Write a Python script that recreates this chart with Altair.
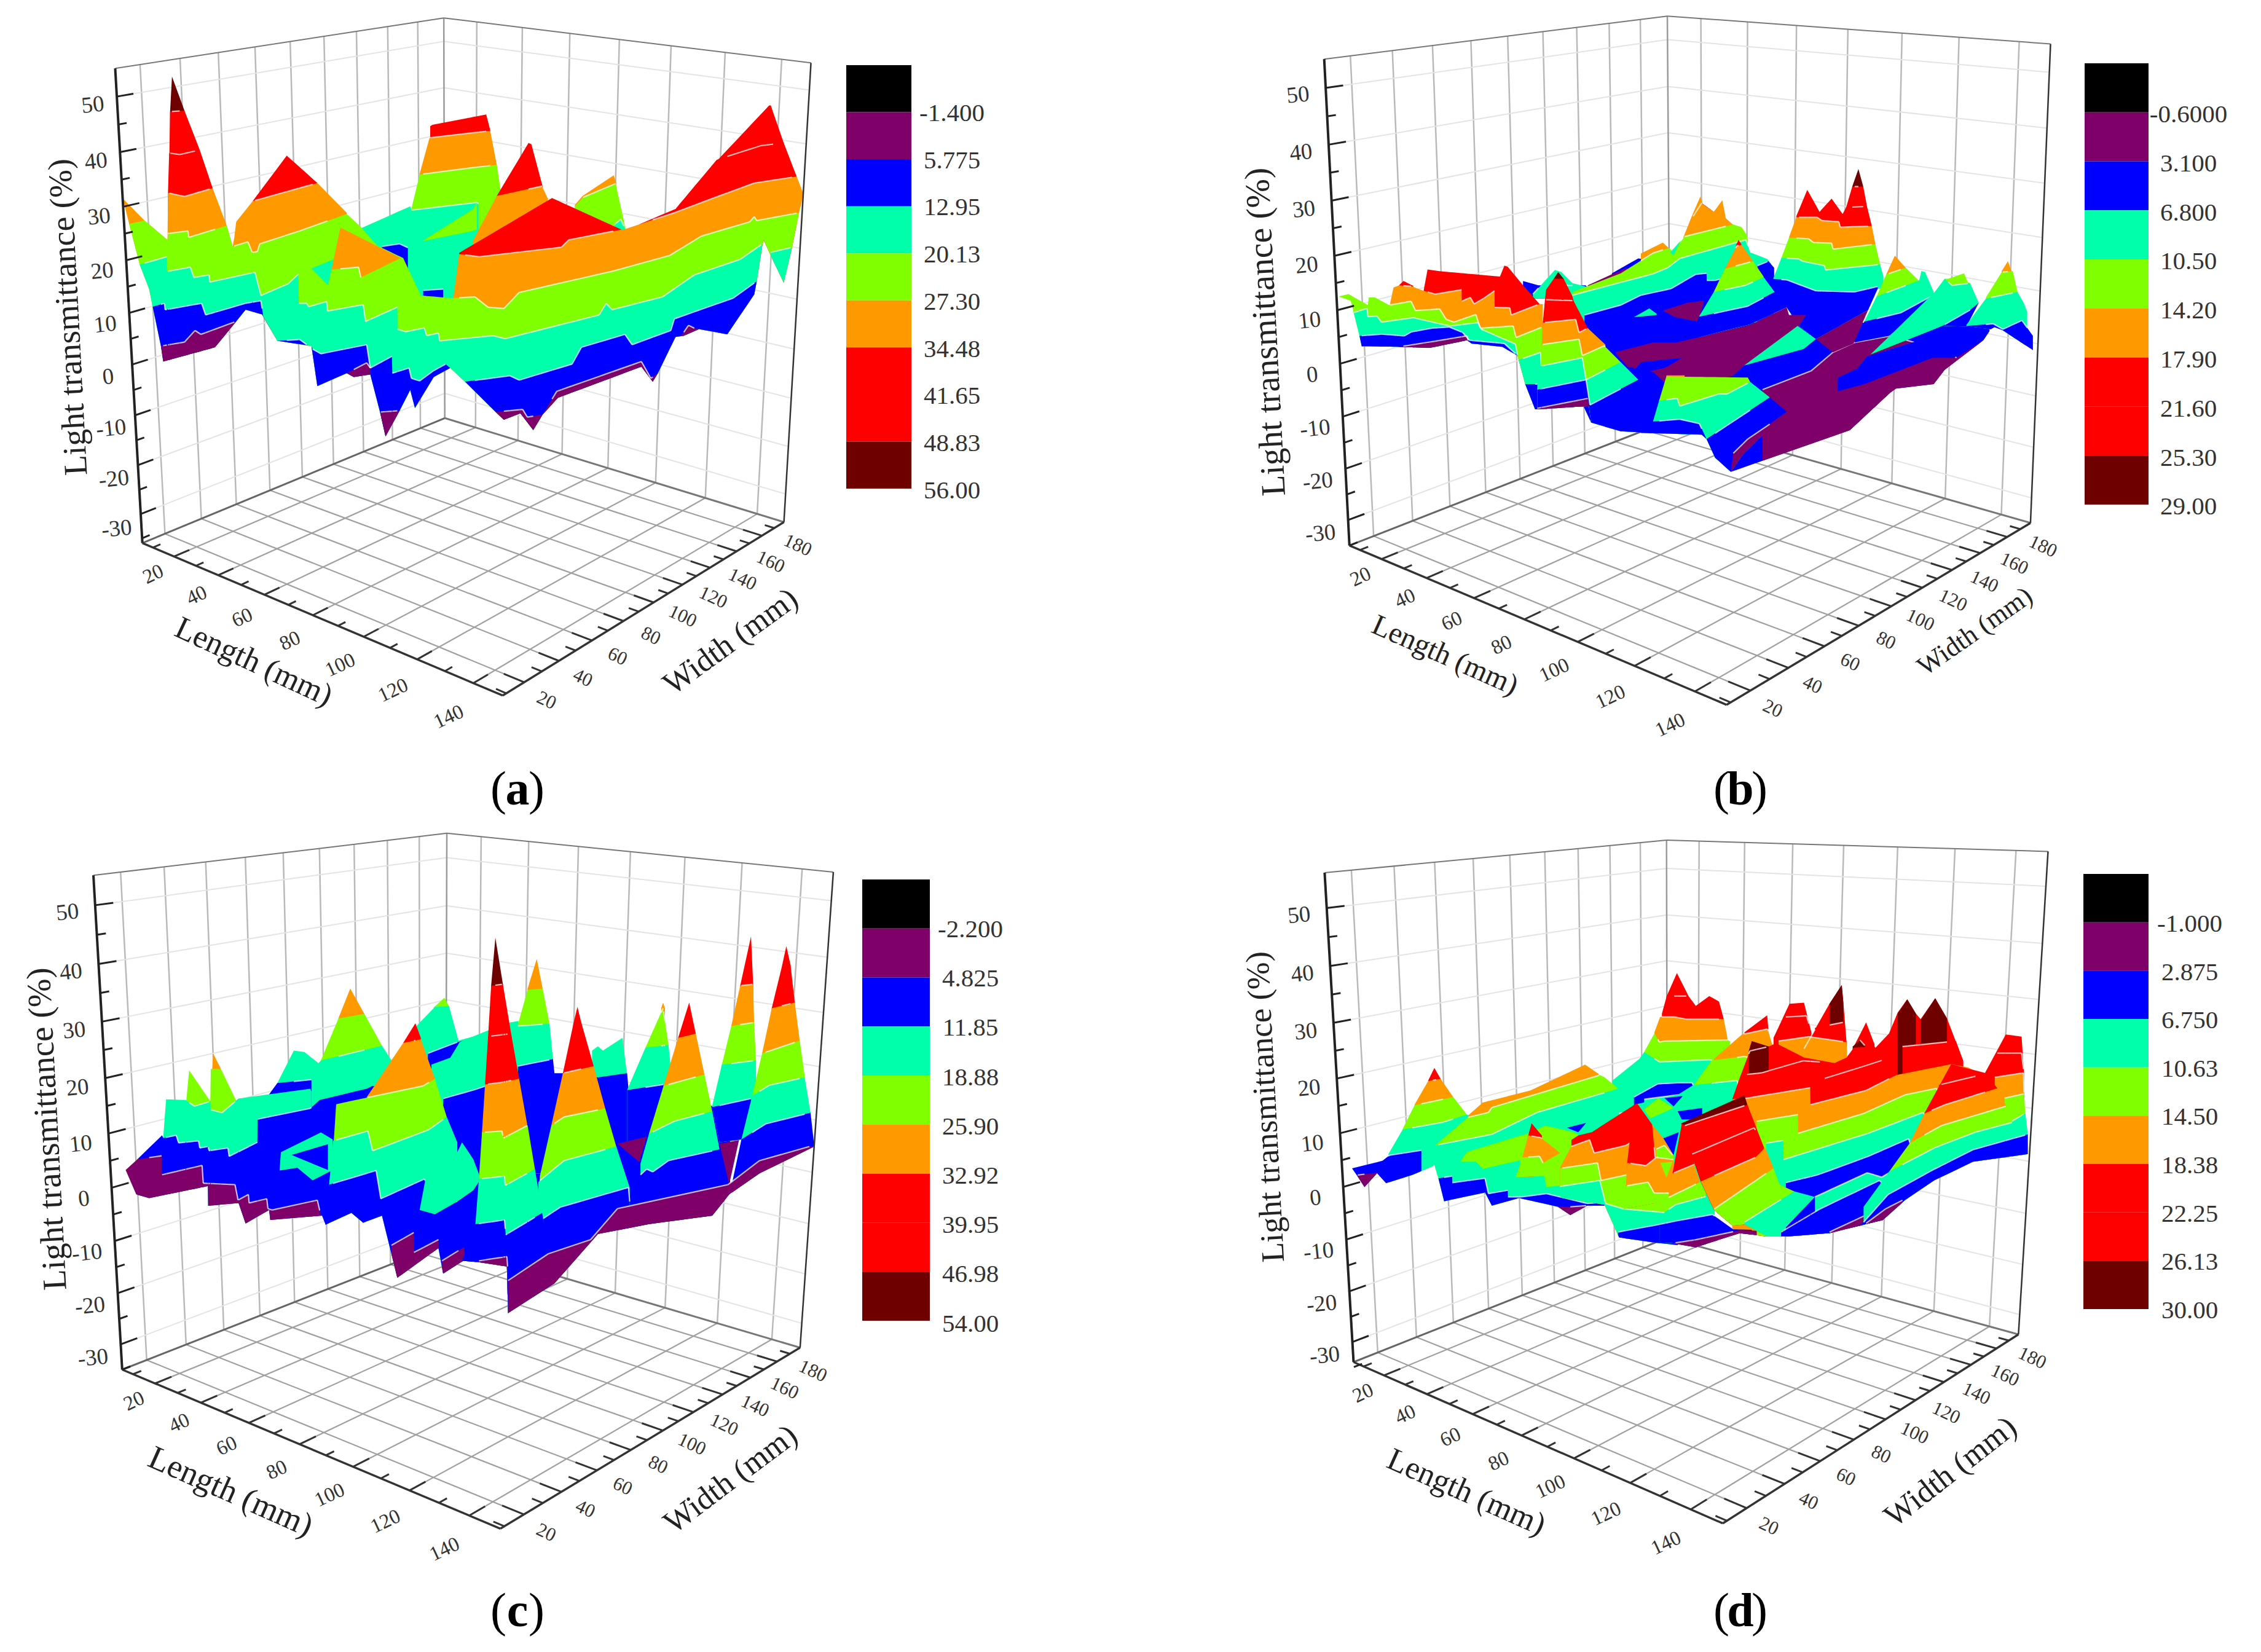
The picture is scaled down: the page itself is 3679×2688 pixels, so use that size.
import numpy as np
import pandas as pd
import altair as alt

COLORS = {"P": "#7f0068", "B": "#0000ff", "T": "#00ffaa", "G": "#80ff00",
          "O": "#ff9900", "R": "#ff0000", "M": "#6e0000", "K": "#000000"}
LEGEND_KEYS = ["K", "P", "B", "T", "G", "O", "R", "R", "M"]

A_LEVELS = ["-1.400", "5.775", "12.95", "20.13", "27.30", "34.48", "41.65", "48.83", "56.00"]
B_LEVELS = ["-0.6000", "3.100", "6.800", "10.50", "14.20", "17.90", "21.60", "25.30", "29.00"]
C_LEVELS = ["-2.200", "4.825", "11.85", "18.88", "25.90", "32.92", "39.95", "46.98", "54.00"]
D_LEVELS = ["-1.000", "2.875", "6.750", "10.63", "14.50", "18.38", "22.25", "26.13", "30.00"]

Z_TICKS = [-30, -20, -10, 0, 10, 20, 30, 40, 50]
LENGTH_TICKS = [20, 40, 60, 80, 100, 120, 140]
WIDTH_TICKS = [20, 40, 60, 80, 100, 120, 140, 160, 180]

# Each curve: (horizontal station along the projected surface, apparent transmittance %)
# ---------------------------------- panel a ----------------------------------
A_HILL = ([(1090, 10.5), (1690, 10.5)], [
    ("R", [(1385, 44.5), (1395, 44.75), (1623, 46.75), (1640, 43.75)]),
    ("O", [(1340, 35.25), (1382, 42.25), (1640, 43.6), (1668, 37)]),
    ("G", [(1305, 28.5), (1340, 35.15), (1568, 36.5), (1668, 37), (1683, 32.5)]),
    ("T", [(1090, 24.75), (1300, 29), (1306, 28.25), (1583, 29.75), (1590, 29.5)]),
    ("B", [(1180, 21.25), (1255, 21.75), (1290, 21)]),
    ("B", [(1355, 12.75), (1440, 13)]),
])
A_WEDGE = ([(1350, 22.25), (1568, 24.25), (1583, 24.5)], [
    ("G", [(1350, 22.25), (1568, 28.5), (1583, 29.75)]),
])
A_GREENPEAK = ([(2000, 20), (2215, 20)], [
    ("O", [(2000, 29.25), (2033, 31), (2165, 35), (2175, 33.6)]),
    ("G", [(2000, 29), (2035, 30.75), (2173, 33.4), (2208, 26.25), (2215, 24.5)]),
    ("T", [(2170, 25.5), (2195, 26.5), (2215, 24.5)]),
])
A_REDPEAK = ([(1568, 19), (1885, 19)], [
    ("R", [(1668, 31), (1803, 41.25), (1815, 41), (1862, 33)]),
    ("O", [(1568, 22.5), (1668, 31), (1860, 32.9), (1885, 30.5)]),
])
A_FRONT_BASE = [(78, 30.5), (105, 25.6), (150, 17.75), (190, 13), (205, 9.6), (240, 2), (250, -1), (470, 1.75),
                (560, 6.75), (600, 9), (670, 8.1), (735, 3), (880, 2), (905, -5.75), (1030, -3.25), (1060, -4),
                (1130, -3.5), (1170, -10.5), (1195, -15.5), (1255, -10.5), (1300, -6.5), (1320, -10), (1400, -4),
                (1470, -2.25), (1533, -4.9), (1663, -10.75), (1698, -12.25), (1768, -11), (1823, -14.25),
                (1863, -11.25), (1928, -8), (2283, -2), (2331, -4.9), (2353, -3.25), (2428, 3.75), (2463, 4),
                (2528, 5.25), (2648, 4.25), (2763, 12), (2773, 14.5), (2798, 21.75), (2803, 22.5), (2843, 18.5),
                (2888, 14.25), (2923, 21), (2953, 27.75), (2973, 31.5)]
A_FRONT = (A_FRONT_BASE, [
    ("M", [(279, 47.3), (287, 54.1), (340, 47.5)]),
    ("R", [(276, 39.3), (279, 47.3), (340, 47.5), (405, 39.9)]),
    ("R", [(270, 31.6), (275, 39.3), (320, 39), (405, 39.9), (460, 32.5)]),
    ("R", [(630, 30), (775, 38.8), (905, 33.5)]),
    ("O", [(78, 30.5), (170, 26.25), (268, 22.5), (270, 31.6), (340, 30.9), (460, 32.5), (520, 25.25), (545, 21.25),
           (552, 23), (560, 26), (630, 30), (905, 33.5), (1030, 27.75)]),
    ("R", [(1508, 20), (1903, 30.6), (2198, 24.5)]),
    ("R", [(2603, 37.75), (2826, 48.5), (2833, 48.5), (2888, 41.25)]),
    ("R", [(2273, 25.5), (2428, 28.5), (2603, 38), (2793, 40.75), (2888, 41.25), (2943, 34.75)]),
    ("O", [(1483, 11.25), (1508, 19.75), (1593, 19.25), (1943, 21.1), (1973, 22.5), (2198, 24.5), (2213, 24.6),
           (2423, 27.75), (2613, 31), (2763, 33.5), (2943, 34.75), (2971, 31.5)]),
    ("G", [(105, 25.6), (170, 26.25), (268, 22.5), (270, 23.75), (355, 24.25), (358, 23), (520, 25.25), (545, 21.25),
           (610, 22.15), (628, 20.1), (650, 20.25), (660, 21.75), (830, 24.25), (1030, 27.5), (1090, 25), (1160, 21.4),
           (1270, 19), (1345, 11.75), (1480, 11.25), (1575, 11.5), (1631, 9.5), (1698, 9.25), (1763, 12.35),
           (2163, 16.5), (2403, 19.5), (2538, 23.25), (2743, 26), (2763, 27), (2773, 26.25), (2953, 27.75), (2968, 27.5)]),
    ("T", [(150, 17.75), (265, 19.25), (266, 16.4), (365, 17.25), (380, 15.25), (445, 15.75), (448, 14.35), (640, 16.25),
           (665, 11.75), (780, 14), (825, 15.9), (826, 10.25), (860, 10.25), (868, 9.6), (945, 10.6), (948, 8.75),
           (1100, 10), (1110, 6.75), (1245, 9.5), (1246, 5.25), (1280, 4.75), (1360, 5.5), (1370, 4), (1420, 4.5),
           (1425, 3), (1653, 4), (1703, 3.4), (2103, 8), (2133, 10.25), (2158, 9), (2373, 11.5), (2508, 15.75),
           (2703, 18.75), (2798, 21.75)]),
    ("T", [(2833, 20.1), (2918, 21), (2925, 20.9)]),
    ("B", [(205, 9.6), (255, 10.25), (258, 9), (413, 10.25), (430, 8), (600, 10.25), (665, 10.75), (675, 7.75), (735, 3),
           (830, 3.25), (885, 1.4), (920, 0.5), (1115, 2.25), (1130, -2.25), (1222, 0), (1224, -3.25), (1295, -2.25),
           (1305, -4.25), (1340, -4.75), (1400, -2.75), (1450, -1.5), (1480, -3), (1533, -4.9), (1723, -3.75),
           (1763, -4.6), (1988, -1.5), (2028, 1.75), (2213, 4.25), (2243, 2.25), (2408, 5), (2423, 7.25), (2673, 11.25),
           (2773, 14.5)]),
    ("P", [(240, 2), (340, 2.75), (385, 5), (410, 4.25), (560, 6.75)]),
    ("P", [(1030, -3.25), (1115, -1.25), (1130, -2.25)]),
    ("P", [(1175, -10.75), (1255, -10.5)]),
    ("P", [(1663, -10.75), (1778, -10.25), (1798, -11.75), (1863, -11.25), (1923, -6.75), (2283, -1), (2323, -4.25), (2353, -3.25)]),
    ("P", [(2450, 3.8), (2483, 6), (2533, 4.9)]),
])
A_NOTCH = ([(880, 17), (950, 13.75), (975, 18.75)], [
    ("T", [(880, 17), (975, 18.75)]),
])
A_PATCH = ([(965, 16), (1090, 14), (1262, 18.5)], [
    ("O", [(965, 16.75), (1003, 24.9), (1260, 19)]),
    ("G", [(965, 16.75), (1080, 17.25), (1090, 15.25), (1260, 19)]),
])
PANEL_A_SHEETS = [A_HILL, A_WEDGE, A_GREENPEAK, A_REDPEAK, A_FRONT, A_NOTCH, A_PATCH]

# ---------------------------------- panel b ----------------------------------
B_TENT = ([(975, 12.6), (1265, 12.6)], [
    ("B", [(975, 15.8), (1045, 15), (1260, 15), (1265, 14.8)]),
    ("T", [(1020, 13.4), (1120, 17.8), (1150, 17.4), (1200, 15.4), (1260, 14.8)]),
])
B_STRIP = ([(1270, 13.4), (1520, 13.4)], [
    ("B", [(1380, 17.2), (1500, 19.9), (1520, 19.8)]),
    ("P", [(1270, 15), (1390, 17.2), (1450, 18.2)]),
])
B_HILL = ([(1195, 7.8), (2121, 7.8)], [
    ("R", [(1750, 27.6), (1789, 30), (1844, 28.4)]),
    ("O", [(1512, 20.8), (1612, 22.8), (1639, 21.8)]),
    ("O", [(1706, 23.8), (1744, 27.6), (1783, 31.2), (1794, 29.8), (1844, 28.4), (1883, 30.5), (1899, 27.2), (1933, 26)]),
    ("G", [(1200, 13.8), (1420, 17.2), (1568, 20.9), (1639, 21.8), (1656, 21.2), (1695, 23), (1711, 23.9), (1933, 26.1),
           (1971, 25.6), (1994, 24.2), (1999, 23.3)]),
    ("T", [(1200, 13.2), (1568, 17.1), (1634, 18.2), (1689, 19.9), (1990, 23.3), (2010, 21), (2088, 19.8), (2104, 19)]),
    ("B", [(1255, 9.6), (1420, 11.4), (1512, 13.2), (1650, 14.4), (1761, 17), (1811, 17.2), (1812, 15.9), (1850, 15.9), (1877, 16.2)]),
    ("B", [(2043, 18.6), (2093, 19.4), (2119, 18.2)]),
])
B_HILL_BIT = ([(1645, 21), (1661, 20.5), (1695, 23.2)], [("T", [(1645, 21), (1695, 23.2)])])
B_LEFT_BASE = [(135, 13), (190, 12.2), (205, 9.8), (230, 5.8), (240, 3.9), (400, 3.8), (550, 3.6), (720, 5), (740, 4.4),
               (880, 3.8), (950, 2.2), (985, -3), (1030, -7.6), (1060, -7.6)]
B_LEFT = (B_LEFT_BASE, [
    ("R", [(410, 15), (430, 15.8), (475, 14.9)]),
    ("R", [(522, 14), (540, 17.9), (590, 17.6), (870, 16.6), (890, 18.6), (905, 18.4), (975, 15), (1050, 11.6)]),
    ("O", [(370, 11.8), (385, 14.6), (410, 15), (470, 14.8), (522, 14), (575, 13.4), (695, 14.2), (696, 12.1), (735, 12.8),
           (752, 11.6), (798, 12.7), (845, 14), (846, 11), (915, 10.9), (921, 9.6), (1050, 11.6), (1065, 11.6)]),
    ("G", [(135, 13), (180, 13.4), (268, 11.4), (272, 12.8), (300, 12.8), (365, 11.4), (465, 12.1), (485, 10.4), (595, 10.7),
           (625, 8.8), (660, 8.3), (760, 9.7), (780, 7.2), (930, 7.6), (943, 5.5), (1062, 7.4)]),
    ("T", [(200, 10), (265, 10.8), (268, 9.3), (310, 9.4), (330, 8.3), (475, 9.1), (640, 7.6), (770, 8.2), (785, 7), (940, 4.3),
           (955, 1.4), (1055, 2.8), (1058, 0.3)]),
    ("B", [(230, 5.8), (330, 6.1), (435, 5.8), (465, 6.5), (560, 7.2), (640, 7.4), (700, 6.4), (730, 5), (890, 4.4), (950, 2.2),
           (985, -3), (1040, -3)]),
    ("P", [(410, 3.8), (570, 4.8), (720, 5.8), (725, 5)]),
])
B_FRONT_BASE = [(1250, -7), (1285, -10), (1420, -11.6), (1568, -11.9), (1789, -12.2), (1811, -13), (1850, -16.4), (1922, -19),
                (2464, -11.4), (2647, -4.6), (2674, -3.8), (2846, -3), (2896, -0.4), (3073, 5), (3106, 7), (3123, 7.4),
                (3161, 6.8), (3244, 4.6), (3298, 3.2)]
B_FIELD = (B_FRONT_BASE, [
    ("B", [(1250, 8), (1568, 8.2), (2010, 8.2), (2508, 8.2), (3000, 8), (3100, 7.2)]),
])
B_FIELD_BIT = ([(1480, 9.2), (1584, 9.6)], [("T", [(1480, 9), (1550, 10.8), (1584, 9.8)])])
B_TALL = ([(2099, 13.4), (2176, 11), (2232, 7.6), (2309, 5.2), (2547, 10.5), (2591, 14.4), (2617, 14.4)], [
    ("M", [(2475, 33), (2503, 36.2), (2525, 33)]),
    ("R", [(2447, 29.2), (2475, 33), (2525, 33), (2542, 29.4)]),
    ("R", [(2220, 27.6), (2270, 32.4), (2326, 28.4), (2381, 30.8), (2431, 28), (2447, 29.2), (2542, 29.4), (2564, 25.8)]),
    ("O", [(2187, 23.8), (2220, 27.4), (2315, 27.4), (2337, 26.8), (2414, 26.6), (2420, 25.6), (2564, 25.8), (2580, 22.6)]),
    ("G", [(2152, 20), (2187, 23.7), (2276, 23.5), (2298, 22.8), (2381, 22.7), (2387, 21.6), (2580, 22.5), (2602, 18.8)]),
    ("T", [(2115, 16.2), (2152, 20), (2232, 19.8), (2248, 19.4), (2348, 18.6), (2353, 17.8), (2602, 18.8), (2617, 16.6)]),
    ("B", [(2099, 16.2), (2176, 16), (2309, 14), (2486, 13.8), (2591, 14.8)]),
])
B_STRIP1 = ([(1395, 2.8), (1450, 0.2), (1568, -0.8), (1623, -2.8), (1927, -1.6), (1982, 0.4), (2232, 7.6), (2265, 9.6)], [
    ("P", [(1395, 2.8), (1568, 4.6), (1673, 4.6), (2010, 7.8), (2176, 11), (2187, 9.6), (2265, 9.6)]),
])
B_WEDGE_BLUE = ([(1470, -1), (1512, -1), (1623, 0), (1700, 1.8)], [("B", [(1470, -1), (1512, 1), (1700, 1.8)])])
B_DIAMOND = ([(1612, 10.4), (1667, 9.2), (1772, 8.4), (1800, 12.2)], [("P", [(1612, 10.4), (1722, 11.8), (1800, 12.2)])])
B_PEAK2 = ([(1722, 5.2), (1761, 5.4), (2010, 7.9), (2176, 11)], [
    ("R", [(1944, 22.2), (1957, 23.3), (1971, 22.4)]),
    ("O", [(1894, 18), (1949, 22.2), (1971, 22.4), (2023, 19.4)]),
    ("G", [(1844, 13.8), (1894, 18), (2023, 19.4), (2071, 16.6)]),
    ("T", [(1778, 9.4), (1844, 13.8), (1988, 15), (2071, 16.5), (2121, 13.8)]),
    ("B", [(1722, 5.2), (1778, 9.3), (1999, 11.2), (2121, 13.8), (2176, 11)]),
])
B_TEAL_WEDGE = ([(1982, 0.4), (2254, 3.4), (2309, 5.2)], [("T", [(1982, 0.4), (2226, 7.6), (2309, 5.2)])])
B_PURPLE_WEDGE = ([(2309, 5.2), (2387, 2.8), (2481, 4.4), (2547, 10.5)], [("P", [(2309, 5.2), (2547, 10.5)])])
B_PURPLE_BIG = (B_FRONT_BASE, [
    ("P!", [(2066, -4), (2287, -0.6), (2387, 2.8), (2486, 4.6), (2652, 5.8), (2900, 3), (2950, 1.8), (3073, 5)]),
])
B_BAND = ([(2398, -4.4), (2530, -3), (2840, 1.8), (2940, 1.8), (3062, 6.2), (3112, 8)], [
    ("B", [(2409, -1.8), (2497, -0.2), (2541, 2), (2957, 7.2), (3112, 8)]),
])
B_R3 = ([(2486, 4.6), (2641, 5.8), (2838, 11.4)], [
    ("O", [(2630, 17), (2669, 20.4), (2719, 18.2)]),
    ("G", [(2586, 13), (2630, 17), (2719, 18.2), (2780, 15.8)]),
    ("T", [(2530, 8.4), (2586, 13), (2780, 15.9), (2790, 17.6), (2807, 17.4), (2846, 13.8)]),
    ("B", [(2486, 4.6), (2530, 8.4), (2696, 10), (2835, 13), (2838, 11.4)]),
])
B_R4 = ([(2558, 2.4), (2885, 7.6), (2995, 7.5), (3051, 11.8)], [
    ("G", [(2896, 16.2), (2912, 16.2), (2984, 17.2), (3001, 15.6), (3012, 15.4)]),
    ("T", [(2558, 2.4), (2851, 13.8), (2896, 16.2), (2929, 15), (3012, 15.4), (3051, 11.8)]),
    ("B", [(2885, 7.6), (3051, 11.4)]),
])
B_R5 = ([(2995, 7.6), (3106, 7), (3123, 7.4), (3161, 6.8), (3244, 4.6), (3298, 3.2)], [
    ("O", [(3156, 17.6), (3184, 19.4), (3200, 17.6)]),
    ("G", [(3084, 12.8), (3156, 17.4), (3206, 17.6), (3228, 13.8)]),
    ("T", [(2995, 7.8), (3084, 12.6), (3228, 13.8), (3256, 11.8), (3272, 10.2)]),
    ("B", [(3001, 7.6), (3117, 8), (3161, 7), (3248, 8.6), (3298, 5.8)]),
])
B_PEAK1 = ([(1040, -7.6), (1275, -7), (1285, -10), (1420, -11.6), (1568, -11.9)], [
    ("M", [(1115, 16.2), (1135, 17.4), (1160, 16.2)]),
    ("R", [(1075, 12.4), (1080, 14.2), (1115, 16.2), (1160, 16.2), (1200, 13), (1205, 12.2)]),
    ("R", [(1065, 8.2), (1075, 12.4), (1205, 12.2), (1270, 7.2)]),
    ("O", [(1060, 4.2), (1065, 8.2), (1215, 8.8), (1230, 6.4), (1270, 7.2), (1350, 4.2)]),
    ("G", [(1058, 0.2), (1060, 4.2), (1230, 5.2), (1245, 2.2), (1345, 4), (1420, 1)]),
    ("T", [(1040, -4), (1055, 0.3), (1245, 1.8), (1262, -2.2), (1420, 1), (1500, -2.2)]),
    ("B", [(1040, -4), (1262, -2.2), (1280, -6.8), (1500, -2.2), (1568, -5)]),
    ("P", [(1040, -7.4), (1270, -5.6), (1275, -7.2)]),
])
B_PATCH = ([(1512, -11.9), (1789, -12.2), (1811, -13), (1850, -16.4), (1922, -19), (1977, -15.8), (2176, -8)], [
    ("O", [(1628, -1.4), (1711, -1.4)]),
    ("G", [(1595, -6), (1628, -1.6), (1999, -1.8), (2010, -2.6)]),
    ("T", [(1567, -9.8), (1595, -6), (1678, -5.6), (1689, -7), (1866, -4.8), (1905, -4.8), (2010, -2.6), (2099, -5.4)]),
    ("B", [(1512, -10.2), (1567, -9.8), (1689, -9.4), (1778, -10.2), (1811, -13), (2099, -5.4), (2176, -8)]),
    ("P", [(1922, -19), (1933, -15.6), (1999, -13), (2176, -8.2)]),
])
PANEL_B_SHEETS = [B_TENT, B_STRIP, B_HILL, B_HILL_BIT, B_LEFT, B_FIELD, B_FIELD_BIT, B_TALL, B_STRIP1, B_WEDGE_BLUE, B_DIAMOND,
                  B_PEAK2, B_PURPLE_BIG, B_TEAL_WEDGE, B_PURPLE_WEDGE, B_BAND, B_R3, B_R4, B_R5, B_PEAK1, B_PATCH]

# ---------------------------------- panel c ----------------------------------
C_FRONT_BASE = [(45, 0.75), (90, 3.6), (135, -0.75), (190, -1.4), (440, 0.75), (441, -2.75), (570, -2.25), (600, -5.9), (700, -3.5),
                (705, -5.25), (925, -4.5), (940, -6.1), (1050, -4), (1100, -5.75), (1180, -4.5), (1245, -15.5), (1420, -10.25),
                (1440, -14.75), (1525, -12.5), (1592, -12.75), (1711, -13.5), (1716, -21.75), (1913, -16.5), (2098, -7.75),
                (2315, -6), (2584, -4.5), (2656, -0.75), (2785, 3), (3018, 7.75)]
C_BACK = ([(700, 13), (2222, 13)], [
    ("O", [(995, 30.5), (1045, 35.75), (1105, 31.25)]),
    ("G", [(920, 23), (995, 30.45), (1105, 31.25), (1180, 25.6)]),
    ("G", [(1400, 32.4), (1445, 34.1), (1465, 32.6)]),
    ("T", [(735, 19), (805, 24.75), (850, 24.5), (910, 22.5), (920, 23), (1180, 25.6), (1220, 23), (1330, 29.25), (1405, 32.5),
           (1465, 32.6), (1505, 26.5), (1568, 27.25), (1628, 28.25), (1727, 29.75), (1760, 30)]),
    ("T", [(2073, 24.75), (2098, 25.5), (2119, 24.75), (2202, 27), (2222, 20.5)]),
    ("B", [(700, 17), (735, 19), (880, 19.6)]),
    ("B", [(1375, 24.25), (1500, 26.25), (1530, 26.5)]),
])
C_FIELD = (C_FRONT_BASE, [
    ("B", [(1390, 22), (1758, 22), (1902, 23.25), (1913, 20.75), (1949, 20.75), (2098, 20), (2222, 20.75), (2228, 18),
           (2377, 18.75), (2450, 16.5), (2660, 14)]),
])
C_RIDGE = (C_FRONT_BASE, [
    ("T", [(1390, 22.25), (1470, 23.5), (1510, 26.25), (1568, 27.25), (1628, 28.25), (1727, 29.75), (1758, 29.5)]),
    ("B", [(1440, 16.25), (1568, 17.75), (1623, 18.5), (1758, 20)]),
])
C_LEFT = (C_FRONT_BASE, [
    ("O", [(458, 21.5), (462, 24.25), (495, 21.5)]),
    ("G", [(347, 15.5), (360, 21.25), (450, 15.75), (452, 21.5), (495, 21.5), (570, 15)]),
    ("T", [(250, 9.5), (262, 16.1), (345, 16), (382, 14.9), (450, 15.75), (452, 14.25), (500, 13.75), (570, 16.25), (700, 17),
           (875, 18), (880, 17.5)]),
    ("B", [(140, 5.5), (245, 9.75), (250, 9.25), (305, 9.75), (315, 8.4), (400, 8.75), (405, 7.5), (440, 7.75), (445, 7),
           (525, 7.5), (530, 6), (650, 8.5), (651, 12.6), (875, 14.5), (915, 16), (1115, 18), (1140, 18.5), (1200, 18)]),
    ("P", [(45, 0.75), (90, 3.6), (140, 5.5), (243, 6.1), (245, 2.75), (415, 4.4), (420, 1.25), (555, 1), (568, -1.75), (612, -0.75),
           (615, -2.25), (690, -1.5), (695, -3.25), (712, -3.5), (905, -1.75), (920, -4.5)]),
    ("P", [(1050, -4), (1170, -1.75), (1180, -4.5)]),
])
C_T1 = ([(745, 3.5), (820, 4), (885, 1.75), (955, 3.25), (970, 3.5)], [("T", [(745, 3.75), (750, 6.75), (920, 10.25), (970, 9)])])
C_TRI = ([(795, 6.25), (955, 3.5)], [("B", [(795, 6.25), (950, 8.15)])])
C_NEAR = (C_FRONT_BASE, [
    ("R", [(1270, 26.1), (1322, 29.6), (1345, 27)]),
    ("O", [(1115, 16.5), (1270, 26.1), (1345, 26.75), (1405, 19.75)]),
    ("G", [(975, 8.75), (985, 15.25), (1115, 16.4), (1355, 18.5), (1405, 19.75), (1455, 13)]),
    ("T", [(955, 1), (972, 8.75), (1120, 10.5), (1140, 7), (1270, 9), (1380, 10.75), (1455, 13), (1500, 8.5)]),
    ("B", [(940, -6), (955, 1), (1155, 3.5), (1175, -1.5), (1360, 2), (1420, -2), (1505, -2)]),
    ("P", [(1220, -9.75), (1315, -7.5), (1316, -11), (1420, -8.75), (1421, -10.25)]),
    ("P", [(1435, -12.5), (1528, -10.1), (1535, -12.4)]),
])
C_SMALL = ([(1340, -3.5), (1405, -4.25), (1500, -2)], [("T", [(1340, -3.5), (1375, 4.25), (1405, 2.5), (1500, -2)])])
C_T1440 = ([(1440, 1.5), (1500, -2), (1568, 0), (1600, 2)], [("T", [(1440, 1.5), (1520, 8.5), (1568, 5.5), (1600, 2)])])
C_SPIKE2 = ([(1727, 3), (1913, 3)], [
    ("O", [(1799, 35.75), (1838, 41), (1863, 35.75)]),
    ("G", [(1756, 29.1), (1799, 35.5), (1863, 35.75), (1892, 29.5)]),
    ("T", [(1727, 29.5), (1756, 29.1), (1892, 29.5), (1907, 23.25)]),
    ("B", [(1758, 22), (1907, 23.25), (1913, 20.75)]),
])
C_PEAK4 = ([(2222, 8), (2406, 8)], [
    ("O", [(2367, 32.25), (2375, 33.25), (2383, 32.25)]),
    ("G", [(2300, 25.25), (2375, 32.25), (2398, 25.75)]),
    ("T", [(2222, 17.75), (2300, 25.25), (2398, 25.75), (2406, 22.5)]),
    ("B", [(2222, 17.75), (2377, 18.75), (2400, 18)]),
])
C_TRI2 = ([(2181, 8.25), (2274, 5), (2305, 9.5)], [("P", [(2181, 8.25), (2305, 9.5)])])
C_PEAK5 = (C_FRONT_BASE, [
    ("R", [(2439, 27), (2486, 33.25), (2514, 27.75)]),
    ("O", [(2377, 18.5), (2439, 27), (2514, 27.75), (2551, 20.5)]),
    ("G", [(2315, 10), (2377, 18.5), (2551, 20.5), (2584, 14)]),
    ("T", [(2279, 4.75), (2315, 10), (2424, 12.25), (2584, 14), (2615, 7.25)]),
    ("B", [(2222, 0.5), (2305, 3.75), (2331, 3.25), (2398, 5.25), (2615, 7.25), (2644, 1)]),
])
C_SPIKE1 = (C_FRONT_BASE, [
    ("M", [(1644, 36.25), (1662, 44.75), (1694, 36.5)]),
    ("R", [(1631, 27.25), (1644, 36.25), (1694, 36.5), (1729, 27.75)]),
    ("R", [(1618, 18.75), (1631, 27.25), (1729, 27.75), (1763, 19.75)]),
    ("O", [(1605, 10.25), (1618, 18.75), (1685, 19.1), (1763, 19.75), (1797, 11.75)]),
    ("G", [(1592, 2), (1605, 10.25), (1690, 10.5), (1696, 9.25), (1799, 11.5), (1830, 3.75)]),
    ("T", [(1577, -6), (1592, 2), (1701, 2.5), (1704, 0.85), (1830, 3.75), (1861, -4)]),
    ("B", [(1520, -12.5), (1577, -6), (1701, -5.25), (1706, -7.9), (1861, -4), (1887, -11.25)]),
    ("P", [(1592, -12.5), (1711, -11.75), (1714, -13.5)]),
])
C_PEAK3 = (C_FRONT_BASE, [
    ("R", [(1995, 29.75), (2011, 32.5), (2026, 29.9)]),
    ("R", [(1949, 20.75), (1995, 29.75), (2026, 29.9), (2080, 22)]),
    ("O", [(1900, 11.5), (1949, 20.75), (2080, 22), (2129, 14.5)]),
    ("G", [(1851, 2.5), (1900, 11.5), (1954, 13), (2129, 14.5), (2176, 7.75)]),
    ("T", [(1845, 1.5), (1954, 5.25), (2176, 7.75), (2233, 0.5)]),
    ("B", [(1866, -5), (1938, -3), (2228, 0.5), (2233, -2)]),
])
C_TRI3 = ([(2615, 8.25), (2656, 1), (2698, 8.9)], [("P", [(2615, 8.25), (2698, 8.9)])])
C_PEAK6 = ([(2584, 14.75), (2615, 8.5), (2708, 9), (2760, 16)], [
    ("R", [(2703, 36.25), (2749, 45), (2758, 36.5)]),
    ("O", [(2665, 29.1), (2703, 36.25), (2758, 36.5), (2762, 29.75)]),
    ("G", [(2625, 22.25), (2665, 29.1), (2762, 29.75), (2770, 23)]),
    ("T", [(2584, 15), (2625, 22.25), (2770, 23), (2755, 16.25)]),
    ("B", [(2584, 14.75), (2749, 16.25), (2755, 14)]),
])
C_PEAK7 = (C_FRONT_BASE, [
    ("R", [(2880, 39.6), (2899, 43.25), (2917, 39.9)]),
    ("R", [(2837, 32.25), (2880, 39.6), (2917, 39.9), (2935, 33.25)]),
    ("O", [(2796, 24.25), (2837, 32.25), (2935, 33.25), (2956, 26.5)]),
    ("G", [(2754, 16.75), (2796, 24.25), (2956, 26.5), (2977, 20.25)]),
    ("T", [(2708, 9), (2754, 16.75), (2827, 18.6), (2977, 20), (3002, 13.75)]),
    ("B", [(2667, 1), (2708, 9), (2811, 11.75), (3002, 13.75), (3018, 7.75)]),
])
C_TAIL = (C_FRONT_BASE, [
    ("P!", [(1716, -16), (1887, -11.25), (2067, -8.75), (2181, -3.25), (2651, 1), (2785, 5.25), (2997, 7.75), (3018, 7.75)]),
])
PANEL_C_SHEETS = [C_BACK, C_FIELD, C_RIDGE, C_LEFT, C_T1, C_TRI, C_NEAR, C_SMALL, C_T1440, C_SPIKE2, C_PEAK4, C_TRI2, C_PEAK5,
                  C_PEAK3, C_SPIKE1, C_TRI3, C_PEAK6, C_PEAK7, C_TAIL]

# ---------------------------------- panel d ----------------------------------
D_FRONT_BASE = [(1245, -4), (1310, -9.8), (1480, -10.8), (1540, -10.8), (1647, -11.6), (1840, -9), (1957, -9.6), (2054, -9.6), (2235, -9),
                (2470, -6.6), (2567, -3), (2695, 0.6), (2866, 4), (3107, 5.4)]
D_LEFT = ([(135, 2.8), (155, 1.6), (190, -0.6), (245, 1.9), (285, 0.1), (400, 1.6), (490, 3.2), (505, 4), (650, 8)], [
    ("R", [(470, 18.8), (497, 21.1), (525, 19.1)]),
    ("O", [(410, 14.4), (470, 18.7), (525, 19.1), (580, 15.8)]),
    ("G", [(358, 10), (410, 14.3), (580, 15.8), (640, 12.6)]),
    ("T", [(295, 5.4), (358, 9.9), (535, 11.2), (640, 12.6), (650, 12.4)]),
    ("B", [(135, 2.8), (270, 4.2), (300, 5.2), (440, 6.1)]),
    ("P", [(160, 1.6), (245, 2)]),
])
D_HILL = ([(1250, 13), (1797, 13)], [
    ("R", [(1519, 34.2), (1564, 38.4), (1615, 34.2)]),
    ("R", [(1498, 31), (1519, 34.2), (1615, 34.2), (1647, 32.4), (1706, 34.2), (1749, 33.2), (1770, 30)]),
    ("O", [(1465, 27.6), (1490, 30.4), (1552, 30.4), (1605, 30), (1770, 30), (1786, 26.6)]),
    ("G", [(1420, 24), (1465, 27.4), (1487, 25.8), (1508, 26), (1786, 26.2), (1797, 26)]),
    ("T", [(1280, 18.8), (1400, 22.8), (1420, 24), (1487, 22.2), (1711, 22.6), (1720, 22.4)]),
    ("B", [(1375, 15.8), (1480, 18.2), (1568, 18.4), (1631, 18.4), (1640, 17.5)]),
    ("T", [(1420, 15.4), (1568, 16.2), (1640, 16)]),
])
D_REDROW = ([(1989, 18.6), (2823, 18.6)], [
    ("R", [(1989, 26.6), (2059, 32.8), (2123, 33), (2155, 27.6)]),
    ("R", [(2043, 30.4), (2134, 30.6), (2155, 27.6)]),
    ("R", [(2123, 24.6), (2235, 32.8), (2289, 36.2), (2296, 33), (2310, 25.8)]),
    ("M", [(2235, 32.8), (2289, 36.2), (2296, 33)]),
    ("R", [(2171, 28.4), (2294, 29.4), (2310, 25.8)]),
    ("O", [(2011, 26), (2144, 26.8), (2310, 25.8), (2312, 24)]),
    ("R", [(2342, 25), (2396, 29.4), (2433, 25.4)]),
    ("R", [(2433, 24.6), (2497, 27.4), (2535, 31.2), (2577, 33.6), (2615, 31), (2636, 30), (2700, 33.8), (2752, 30.1), (2823, 22.4)]),
    ("M", [(2535, 31), (2577, 33.6), (2615, 31)]),
    ("M", [(2636, 29.8), (2700, 33.8), (2752, 30.1)]),
    ("R", [(2556, 25), (2791, 26), (2823, 22.4)]),
    ("M", [(2337, 25), (2369, 26.2), (2390, 25.2)]),
])
D_MID = ([(1487, -3), (2000, -3)], [
    ("R", [(1861, 27.6), (1961, 30.7), (1966, 28.3)]),
    ("O", [(1728, 22.8), (1850, 27.2), (1963, 28.2), (1984, 25.2)]),
    ("G", [(1642, 18.2), (1717, 22.5), (1861, 23.2), (1990, 22)]),
    ("T", [(1487, 15.4), (1567, 16.2), (1637, 18), (1829, 18.8), (1840, 15.4)]),
])
D_RIDGE = ([(480, 5.8), (515, 1), (540, -3.2), (720, -1.6), (750, -4), (870, -2.6), (1040, -4.2), (1095, -5.7), (1170, -4), (1310, -4)], [
    ("O", [(645, 12.4), (710, 14.8), (920, 17), (1160, 21.7), (1220, 20)]),
    ("G", [(500, 7), (645, 12.1), (735, 13), (750, 13.9), (1225, 19.8), (1245, 19.4), (1305, 17.4)]),
    ("T", [(480, 5.8), (500, 7), (750, 9), (950, 13), (1305, 17.3), (1310, 17)]),
    ("B", [(515, 1), (575, 1.4), (576, 0.2), (720, 1), (735, -1.8), (820, -1.2), (821, -2.4), (880, -2.4), (990, -1.8), (1170, -3.6), (1245, -3.4)]),
    ("P", [(1030, -4.4), (1165, -4)]),
])
D_BLUETRI = ([(1080, 10.2), (1130, 9.4), (1165, 11.1)], [("B", [(1080, 10.2), (1165, 11.1)])])
D_GREEN = ([(610, 4), (680, 4), (710, 2.7), (875, 4.3), (876, 1.2), (980, 1.4), (990, -0.6), (1130, 0)], [
    ("G", [(610, 4), (640, 5.8), (910, 9.2), (985, 10.6), (1110, 9.4), (1130, 9)]),
])
D_SPIKELET = ([(855, 1.2), (975, 1.4), (1060, 4)], [
    ("R", [(910, 8.8), (925, 11), (970, 8.8)]),
    ("O", [(885, 5), (910, 8.8), (965, 8.4), (1050, 5.6)]),
    ("G", [(855, 1.2), (885, 4.8), (960, 5), (975, 3.8), (1050, 5.6), (1060, 4)]),
])
D_NEAR = ([(1000, -0.8), (1060, -2.6), (1245, -3.8), (1310, -9.8), (1480, -10.8), (1568, -11.2)], [
    ("R", [(1100, 8), (1130, 8.8), (1190, 9.4), (1370, 14.2), (1385, 14.6), (1450, 10.6)]),
    ("O", [(1050, 3), (1100, 6.8), (1180, 8), (1200, 5.6), (1340, 7), (1440, 9.5), (1480, 6)]),
    ("G", [(1050, 2.8), (1215, 3.8), (1230, 0.6), (1340, 1.6), (1480, 2), (1520, 1)]),
    ("T", [(1000, -0.8), (1225, 0.6), (1250, -3.6), (1330, -4.6), (1500, -5.2), (1568, -6)]),
    ("B", [(1305, -8.8), (1568, -6.8)]),
])
D_FILL_TEAL = ([(1387, 7.4), (1450, 7.4), (1549, 3.7), (1600, 3.7)], [
    ("T", [(1387, 14.5), (1585, 16.4), (1600, 16.4)]),
])
D_FILL_GREEN = ([(1419, 13.6), (1446, 11.9), (1549, 13.8)], [("G", [(1419, 13.6), (1482, 15.6), (1549, 13.8)])])
D_FILL_BLUE1 = ([(1509, 15.6), (1549, 14.1), (1590, 16)], [("B", [(1509, 15.6), (1590, 16)])])
D_FILL_BLUE2 = ([(1567, 13.2), (1585, 11.7), (1675, 11.7)], [("B", [(1567, 13.2), (1675, 13.8)])])
D_FILL_BLUE3 = ([(1504, 8.3), (1549, 5.2), (1572, 9.4)], [("B", [(1504, 8.3), (1572, 9.4)])])
D_SPIKE = ([(1330, -4.6), (1486, -3.4), (1513, -5.1), (1558, -3.8)], [
    ("O", [(1440, 8), (1455, 10.8), (1504, 8.3), (1549, 5.2), (1550, 4.4)]),
    ("G", [(1473, 6.3), (1509, 7), (1545, 5.2), (1550, 5)]),
    ("R", [(1345, 3.8), (1360, 9), (1378, 14.4), (1390, 14.6), (1455, 10.8), (1468, 4.8)]),
    ("O", [(1340, -0.2), (1345, 3.8), (1428, 3.3), (1473, 4.8), (1549, 4.4), (1555, -1)]),
    ("G", [(1330, -4.2), (1340, -0.4), (1437, 0.3), (1464, -1.7), (1527, -1.7), (1558, -3.8)]),
])
D_GREEN_TRI = ([(1491, 3.8), (1518, 1.1), (1545, 4)], [("G", [(1491, 3.8), (1545, 4)])])
D_BLOCKLEFT = (D_FRONT_BASE, [
    ("R", [(1545, 2), (1585, 10.8), (1620, 11.5), (1640, 4)]),
    ("O", [(1527, -2.1), (1540, 1.8), (1639, 3.5), (1666, 0.3)]),
    ("G", [(1514, -5), (1527, -2.5), (1666, 0.3), (1690, -1.5)]),
    ("T", [(1487, -6.2), (1513, -5.1), (1558, -3.8), (1693, -2.3), (1730, -3)]),
    ("B", [(1487, -7.4), (1558, -6.8), (1720, -5.6), (1811, -8.3), (1893, -8.4)]),
    ("P", [(1551, -10.8), (1647, -10.2), (1850, -8.4), (1915, -8.6)]),
])
D_FIELD = (D_FRONT_BASE, [
    ("R", [(1808, 15.4), (1845, 19.8), (1885, 24.2), (1968, 25), (2000, 25.6), (2123, 23), (2257, 22), (2310, 23), (2342, 24.8), (2433, 25),
           (2470, 22.6), (2529, 19.8)]),
    ("M", [(1880, 24.2), (1893, 26), (1968, 25)]),
    ("R", [(1808, 15.4), (1845, 19.8), (1936, 20.2), (2118, 22.4), (2257, 22)]),
    ("R", [(2214, 19.2), (2385, 21.4), (2460, 22.4), (2470, 22.6)]),
    ("O", [(1808, 15.4), (1872, 15.6), (2150, 17.5), (2151, 14.4), (2396, 17), (2529, 19.8), (2770, 21.8), (2845, 21.2), (2880, 20.4)]),
    ("G", [(1915, 11.4), (2096, 12.6), (2097, 9.2), (2385, 12.8), (2567, 16.2), (2706, 17.4), (2720, 16)]),
    ("T", [(1957, 7.4), (2032, 7.9), (2033, 4.4), (2406, 9.2), (2647, 13), (2660, 12)]),
    ("B", [(2043, 0.2), (2182, 1.6), (2406, 5), (2583, 8.2), (2600, 6)]),
    ("T", [(2171, -2.4), (2401, 2), (2465, 1.2), (2497, 2)]),
    ("B", [(2022, -8.8), (2193, -4.6), (2454, 0.6), (2470, 0)]),
    ("P", [(2235, -8.8), (2556, -2.6)]),
])
D_RIGHTPEAK = (D_FRONT_BASE, [
    ("R", [(2919, 20.2), (3010, 27.2), (3080, 26.8), (3091, 19.8)]),
    ("R", [(2973, 23.8), (3080, 23.8), (3091, 19.8)]),
    ("O", [(2962, 19.4), (3088, 20.2), (3091, 16.6)]),
    ("G", [(3005, 15.6), (3091, 16.4), (3096, 12.8)]),
    ("T", [(3037, 11.4), (3096, 12.8), (3107, 9)]),
])
D_RIGHT = (D_FRONT_BASE, [
    ("R", [(2652, 12.8), (2770, 21.8), (2919, 20.2), (2973, 17.4)]),
    ("R", [(2716, 18), (2919, 20), (2973, 17.4)]),
    ("O", [(2588, 7.4), (2652, 12.8), (2743, 14.4), (2973, 17.4), (3010, 14.4)]),
    ("G", [(2497, 2.2), (2588, 7.4), (2727, 10.6), (3016, 14.2), (3037, 11.4)]),
    ("T", [(2385, -4.2), (2497, 2.2), (2700, 6.6), (2877, 9.4), (3042, 11.2), (3096, 12.8), (3107, 9)]),
    ("B", [(2364, -8), (2492, -2), (2684, 2.4), (2866, 6.2), (3107, 9)]),
    ("P", [(2396, -7.2), (2481, -4.6), (2556, -3)]),
])
D_BLOCK = ([(1583, 11), (1669, 0.4), (1728, -4.8), (1808, -7.6), (1861, -7.4), (1957, -9.5), (2022, -8.8), (2171, -2.4)], [
    ("M", [(1583, 11), (1861, 16.1), (1874, 14.4)]),
    ("R", [(1583, 11), (1599, 10.6), (1874, 14.4), (1947, 6.6)]),
    ("R", [(1631, 5.4), (1904, 10.2), (1947, 6.6)]),
    ("O", [(1669, 0.4), (1909, 4.8), (1952, 6.6), (1989, 2.8)]),
    ("G", [(1728, -4.6), (1989, 2.8), (2016, -0.2), (2080, -1.4)]),
    ("T", [(1861, -7), (2080, -1.4), (2171, -2.4)]),
])
PANEL_D_SHEETS = [D_LEFT, D_HILL, D_REDROW, D_MID, D_RIDGE, D_BLUETRI, D_GREEN, D_SPIKELET, D_NEAR, D_FILL_TEAL, D_FILL_GREEN,
                  D_FILL_BLUE1, D_FILL_BLUE2, D_FILL_BLUE3, D_SPIKE, D_GREEN_TRI, D_FIELD, D_RIGHTPEAK, D_RIGHT, D_BLOCKLEFT, D_BLOCK]

CANVAS_W, CANVAS_H, MARGIN = 3663, 2672, 8
X_SCALE = alt.Scale(domain=[0, CANVAS_W], nice=False, zero=False)
Y_SCALE = alt.Scale(domain=[CANVAS_H, 0], nice=False, zero=False)

PANELS = [
    dict(name="a", sheets=PANEL_A_SHEETS, levels=A_LEVELS, sx=(170, 2.613), sv=(100, 57, 20 / 2.376),
         box=dict(lb=(232, 881), fb=(818, 1134), rb=(1276, 847), bb=(723, 683), lt=(187, 112), bt=(723, 28), rt=(1319, 103)),
         z=(-36, 55), zoff=(-39, 14), legend=(1377, 1483, 106, 795), legend_x=1500, label_y0=185, label_dy=76.7,
         length_title=(413, 1077, 25, 52), width_title=(1189, 1044, -36, 52), light_title=(112, 516, 267, 54), caption=(842, 1286)),
    dict(name="b", sheets=PANEL_B_SHEETS, levels=B_LEVELS, sx=(2130, 2.8), sv=(250, 39, 25 / 2.8),
         box=dict(lb=(2200, 887), fb=(2805, 1150), rb=(3308, 845), bb=(2714, 687), lt=(2154, 94), bt=(2714, 25), rt=(3336, 75)),
         z=(-35, 55), zoff=(-45, 12), legend=(3392, 3496, 103, 821), legend_x=3512, label_y0=187, label_dy=79.8,
         length_title=(2351, 1067, 24, 48), width_title=(3214, 1028, -35, 44), light_title=(2060, 540, 267, 56), caption=(2832, 1286)),
    dict(name="c", sheets=PANEL_C_SHEETS, levels=C_LEVELS, sx=(170, 2.613), sv=(1450, 53, 20 / 2.178),
         box=dict(lb=(199, 2229), fb=(814, 2487), rb=(1302, 2193), bb=(725, 2022), lt=(152, 1424), bt=(727, 1356), rt=(1356, 1419)),
         z=(-35, 55), zoff=(-45, 12), legend=(1403, 1513, 1431, 2149), legend_x=1530, label_y0=1513, label_dy=80.2,
         length_title=(375, 2428, 24, 54), width_title=(1189, 2407, -37, 52), light_title=(77, 1837, 267, 55), caption=(842, 2623)),
    dict(name="d", sheets=PANEL_D_SHEETS, levels=D_LEVELS, sx=(2150, 2.703), sv=(1560, 41, 25 / 2.8),
         box=dict(lb=(2200, 2210), fb=(2808, 2482), rb=(3282, 2170), bb=(2714, 2018), lt=(2154, 1424), bt=(2714, 1365), rt=(3331, 1384)),
         z=(-34, 56), zoff=(-45, 12), legend=(3390, 3496, 1422, 2130), legend_x=3514, label_y0=1504, label_dy=78.6,
         length_title=(2386, 2428, 24, 52), width_title=(3174, 2395, -38, 52), light_title=(2060, 1801, 267, 53), caption=(2832, 2623)),
]

L_RANGE, W_RANGE = (5.0, 150.0), (8.0, 198.0)


def camera(box, zr):
    l0, l1 = L_RANGE
    w0, w1 = W_RANGE
    z0, z1 = zr
    pairs = [((l0, w0, z0), box["lb"]), ((l1, w0, z0), box["fb"]), ((l1, w1, z0), box["rb"]), ((l0, w1, z0), box["bb"]),
             ((l0, w0, z1), box["lt"]), ((l0, w1, z1), box["bt"]), ((l1, w1, z1), box["rt"])]
    rows, rhs = [], []
    for (a, b, c), (u, v) in pairs:
        rows.append([a, b, c, 1, 0, 0, 0, 0, -u * a, -u * b, -u * c])
        rows.append([0, 0, 0, 0, a, b, c, 1, -v * a, -v * b, -v * c])
        rhs += [u, v]
    rows = np.array(rows, float)
    scale = np.abs(rows).max(axis=0)
    sol = np.linalg.lstsq(rows / scale, np.array(rhs, float), rcond=None)[0] / scale
    m = np.append(sol, 1.0).reshape(3, 4)

    def project(a, b, c):
        h = m @ np.array([a, b, c, 1.0])
        return h[0] / h[2], h[1] / h[2]
    return project


def clean(curve):
    s, v = [], []
    for a, b in curve:
        if s and a <= s[-1]:
            a = s[-1] + 0.5
        s.append(float(a))
        v.append(float(b))
    return np.array(s), np.array(v)


def sheet_frames(sheet, panel, tag):
    base, pieces = sheet
    bs, bv = clean(base)
    x0, fx = panel["sx"]
    y0, v0, k = panel["sv"]
    to_x = lambda s: x0 + s / fx - MARGIN
    to_y = lambda v: y0 + (v0 - v) * k - MARGIN
    parsed = [(key, *clean(curve)) for key, curve in pieces]
    grid = np.unique(np.concatenate([bs] + [p[1] for p in parsed]))
    sil = np.full(grid.shape, -1e9)
    for _, s, v in parsed:
        inside = (grid >= s[0]) & (grid <= s[-1])
        sil[inside] = np.maximum(sil[inside], np.interp(grid[inside], s, v))
    areas, lines = [], []
    for i, (key, s, v) in enumerate(parsed):
        inside = grid[(grid >= s[0]) & (grid <= s[-1])]
        top = np.interp(inside, s, v)
        bot = np.interp(inside, bs, bv)
        top = np.maximum(top, bot)
        sil_here = np.interp(inside, grid, sil)
        color = COLORS[key[0]]
        for a, t, b in zip(inside, top, bot):
            areas.append(dict(x=to_x(a), y=to_y(t), y2=to_y(b), fill=color, piece=f"{tag}-{i}"))
        for j in range(len(inside) - 1):
            if inside[j + 1] - inside[j] < 3:
                continue
            if top[j] <= bot[j] + 0.1 or top[j + 1] <= bot[j + 1] + 0.1:
                continue
            if key.endswith("!") or (top[j] < sil_here[j] - 0.25 and top[j + 1] < sil_here[j + 1] - 0.25):
                lines.append(dict(x=to_x(inside[j]), y=to_y(top[j]), x2=to_x(inside[j + 1]), y2=to_y(top[j + 1])))
    return pd.DataFrame(areas), pd.DataFrame(lines)


def rule_layer(rows):
    df = pd.DataFrame(rows)
    return alt.Chart(df).mark_rule().encode(
        x=alt.X("x:Q", scale=X_SCALE, axis=None), y=alt.Y("y:Q", scale=Y_SCALE, axis=None),
        x2="x2:Q", y2="y2:Q",
        color=alt.Color("c:N", scale=None), strokeWidth=alt.StrokeWidth("w:Q", scale=None))


def text_layer(rows, weight="normal"):
    df = pd.DataFrame(rows)
    return alt.Chart(df).mark_text(font="Liberation Serif", fontWeight=weight, align="center", baseline="middle").encode(
        x=alt.X("x:Q", scale=X_SCALE, axis=None), y=alt.Y("y:Q", scale=Y_SCALE, axis=None),
        text="t:N", angle=alt.Angle("a:Q", scale=None), size=alt.Size("s:Q", scale=None),
        color=alt.Color("c:N", scale=None))


def seg(p, q, c, w):
    return dict(x=p[0] - MARGIN, y=p[1] - MARGIN, x2=q[0] - MARGIN, y2=q[1] - MARGIN, c=c, w=w)


under, over_layers, surf_layers = [], [], []
top_rows, texts, bold = [], [], []
rects = []
for panel in PANELS:
    P = camera(panel["box"], panel["z"])
    l0, l1 = L_RANGE
    w0, w1 = W_RANGE
    z0, z1 = panel["z"]
    # walls and floor
    for w in WIDTH_TICKS:
        under.append(seg(P(l0, w, z0), P(l0, w, z1), "#b9b9b9", 2.5))
        under.append(seg(P(l0, w, z0), P(l1, w, z0), "#a0a0a0", 2.2))
    for l in LENGTH_TICKS:
        under.append(seg(P(l, w1, z0), P(l, w1, z1), "#b9b9b9", 2.5))
        under.append(seg(P(l, w0, z0), P(l, w1, z0), "#a0a0a0", 2.2))
    for z in Z_TICKS:
        under.append(seg(P(l0, w0, z), P(l0, w1, z), "#e4e4e4", 2))
        under.append(seg(P(l0, w1, z), P(l1, w1, z), "#e4e4e4", 2))
    under.append(seg(P(l0, w1, z0), P(l0, w1, z1), "#9a9a9a", 2.5))
    under.append(seg(P(l0, w0, z0), P(l0, w1, z0), "#666666", 3))
    under.append(seg(P(l0, w1, z0), P(l1, w1, z0), "#777777", 3))
    # frame and axes
    top_rows.append(seg(P(l0, w0, z1), P(l0, w1, z1), "#777777", 2))
    top_rows.append(seg(P(l0, w1, z1), P(l1, w1, z1), "#777777", 2))
    top_rows.append(seg(P(l1, w1, z0), P(l1, w1, z1), "#333333", 2.5))
    top_rows.append(seg(P(l0, w0, z0), P(l0, w0, z1), "#222222", 4))
    top_rows.append(seg(P(l0, w0, z0), P(l1, w0, z0), "#333333", 3.5))
    top_rows.append(seg(P(l1, w0, z0), P(l1, w1, z0), "#333333", 3.5))
    for z in np.arange(-35, 55, 5):
        major = z % 10 == 0
        top_rows.append(seg(P(l0, w0, z), P(l0, w0 + (8 if major else 4), z), "#222222", 3))
    for l in np.arange(10, 150, 10):
        top_rows.append(seg(P(l, w0, z0), P(l, w0 + (8 if l % 20 == 0 else 4), z0), "#333333", 3))
    for w in np.arange(10, 198, 10):
        top_rows.append(seg(P(l1, w, z0), P(l1 - (7 if w % 20 == 0 else 3.5), w, z0), "#333333", 3))
    zdx, zdy = panel["zoff"]
    for z in Z_TICKS:
        px, py = P(l0, w0, z)
        texts.append(dict(x=px + zdx - MARGIN, y=py + zdy + (50 - z) * 0.13 - MARGIN, t=str(z), a=354, s=37, c="#333333"))
    for l in LENGTH_TICKS:
        px, py = P(l, w0, z0)
        f = (l - 20) / 120
        texts.append(dict(x=px - 34 - 6 * f - MARGIN, y=py + 29 + 26 * f - MARGIN, t=str(l), a=335, s=33, c="#333333"))
    for w in WIDTH_TICKS:
        px, py = P(l1, w, z0)
        f = (w - 20) / 160
        texts.append(dict(x=px + 36 + 22 * f - MARGIN, y=py + 30 - 14 * f - MARGIN, t=str(w), a=25, s=31, c="#333333"))
    lx, ly, la, ls = panel["length_title"]
    texts.append(dict(x=lx - MARGIN, y=ly - MARGIN, t="Length (mm)", a=la % 360, s=ls, c="#222222"))
    wx, wy, wa, ws = panel["width_title"]
    texts.append(dict(x=wx - MARGIN, y=wy - MARGIN, t="Width (mm)", a=wa % 360, s=ws, c="#222222"))
    tx, ty, ta, ts = panel["light_title"]
    texts.append(dict(x=tx - MARGIN, y=ty - MARGIN, t="Light transmittance (%)", a=ta, s=ts, c="#222222"))
    cx, cy = panel["caption"]
    texts.append(dict(x=cx - 31 - MARGIN, y=cy - MARGIN, t="(", a=0, s=78, c="#000000"))
    texts.append(dict(x=cx + 31 - MARGIN, y=cy - MARGIN, t=")", a=0, s=78, c="#000000"))
    bold.append(dict(x=cx - MARGIN, y=cy - MARGIN, t=panel["name"], a=0, s=78, c="#000000"))
    # legend
    x_a, x_b, y_a, y_b = panel["legend"]
    h = (y_b - y_a) / len(LEGEND_KEYS)
    for i, key in enumerate(LEGEND_KEYS):
        rects.append(dict(x=x_a - MARGIN, x2=x_b - MARGIN, y=y_a + i * h - MARGIN, y2=y_a + (i + 1) * h - MARGIN, fill=COLORS[key]))
    for i, lab in enumerate(panel["levels"]):
        texts.append(dict(x=panel["legend_x"] + 49 - MARGIN, y=panel["label_y0"] + i * panel["label_dy"] - MARGIN, t=lab, a=0, s=41, c="#333333"))
    # surface
    for n, sheet in enumerate(panel["sheets"]):
        areas, lines = sheet_frames(sheet, panel, f"{panel['name']}{n}")
        surf_layers.append(alt.Chart(areas).mark_area(interpolate="linear", strokeWidth=0).encode(
            x=alt.X("x:Q", scale=X_SCALE, axis=None),
            y=alt.Y("y:Q", scale=Y_SCALE, axis=None, stack=None), y2="y2:Q",
            fill=alt.Fill("fill:N", scale=None), detail="piece:N"))
        if len(lines):
            surf_layers.append(alt.Chart(lines).mark_rule(color="#ffffff", strokeWidth=2.2, opacity=0.72).encode(
                x=alt.X("x:Q", scale=X_SCALE, axis=None), y=alt.Y("y:Q", scale=Y_SCALE, axis=None), x2="x2:Q", y2="y2:Q"))

legend_layer = alt.Chart(pd.DataFrame(rects)).mark_rect().encode(
    x=alt.X("x:Q", scale=X_SCALE, axis=None), x2="x2:Q",
    y=alt.Y("y:Q", scale=Y_SCALE, axis=None), y2="y2:Q",
    fill=alt.Fill("fill:N", scale=None))

layers = [rule_layer(under)] + surf_layers + [rule_layer(top_rows), legend_layer, text_layer(texts), text_layer(bold, "bold")]
chart = alt.layer(*layers).properties(width=CANVAS_W, height=CANVAS_H, padding=0, background="#ffffff").configure_view(stroke=None)
chart.save("out.html", embed_options={"renderer": "svg", "actions": False})
